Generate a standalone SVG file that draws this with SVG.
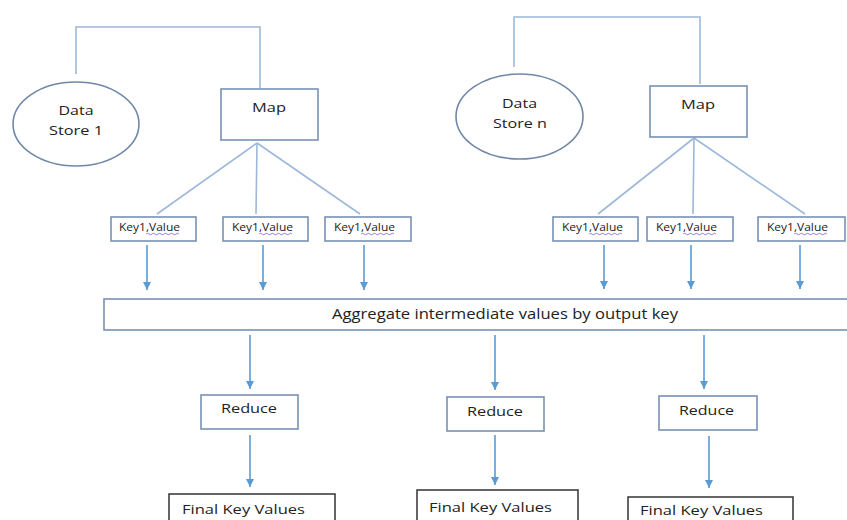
<svg xmlns="http://www.w3.org/2000/svg" width="847" height="520" viewBox="0 0 847 520">
<defs>
<marker id="ah" markerWidth="10" markerHeight="10" refX="8" refY="5" orient="auto" markerUnits="userSpaceOnUse">
<path d="M0,1 L8,5 L0,9 Z" fill="#5b9bd5"/>
</marker>
<style>
.ln{fill:none;stroke:#9db8da;stroke-width:1.6}
.ar{fill:none;stroke:#5b9bd5;stroke-width:1.6;marker-end:url(#ah)}
.bx{fill:#fff;stroke:#7890b3;stroke-width:1.6}
.fb{fill:#fff;stroke:#333;stroke-width:1.5}
.el{fill:#fff;stroke:#7088a8;stroke-width:1.6}
text{font-family:"Open Sans","Liberation Sans",sans-serif;fill:#222;text-anchor:middle}
.t13{font-size:13px}
.tk{font-size:10px}
.sq{fill:none;stroke:#7a5fd6;stroke-width:0.8}
</style>
</defs>
<rect width="847" height="520" fill="#fff"/>
<g id="connectors">
<polyline class="ln" points="76,74 76,27 260,27 260,88"/>
<polyline class="ln" points="514,67 514,17 700,17 700,84"/>
<line class="ln" x1="257" y1="143" x2="157" y2="214"/>
<line class="ln" x1="257" y1="143" x2="256" y2="214"/>
<line class="ln" x1="257" y1="143" x2="360" y2="214"/>
<line class="ln" x1="694" y1="138" x2="598" y2="214"/>
<line class="ln" x1="694" y1="138" x2="693" y2="214"/>
<line class="ln" x1="694" y1="138" x2="805" y2="214"/>
<line class="ar" x1="147" y1="245" x2="147" y2="290"/>
<line class="ar" x1="263" y1="245" x2="263" y2="290"/>
<line class="ar" x1="364" y1="245" x2="364" y2="290"/>
<line class="ar" x1="604" y1="245" x2="604" y2="289"/>
<line class="ar" x1="691" y1="245" x2="691" y2="289"/>
<line class="ar" x1="800" y1="245" x2="800" y2="289"/>
<line class="ar" x1="250" y1="335" x2="250" y2="389"/>
<line class="ar" x1="495" y1="335" x2="495" y2="390"/>
<line class="ar" x1="704" y1="335" x2="704" y2="389"/>
<line class="ar" x1="250" y1="435" x2="250" y2="487"/>
<line class="ar" x1="495" y1="435" x2="495" y2="485"/>
<line class="ar" x1="709" y1="436" x2="709" y2="488"/>
</g>
<g id="ds1"><ellipse class="el" cx="76" cy="124" rx="63" ry="42"/><text class="t13" x="76" y="115" textLength="35" lengthAdjust="spacingAndGlyphs">Data</text><text class="t13" x="76" y="135" textLength="54" lengthAdjust="spacingAndGlyphs">Store 1</text></g>
<g id="map1"><rect class="bx" x="221" y="89" width="97" height="51"/><text class="t13" x="269" y="112" textLength="34" lengthAdjust="spacingAndGlyphs">Map</text></g>
<g id="dsn"><ellipse class="el" cx="519.5" cy="116.5" rx="63.5" ry="42.5"/><text class="t13" x="519.5" y="108" textLength="35" lengthAdjust="spacingAndGlyphs">Data</text><text class="t13" x="520" y="128" textLength="54" lengthAdjust="spacingAndGlyphs">Store n</text></g>
<g id="map2"><rect class="bx" x="650" y="86" width="97" height="51"/><text class="t13" x="698" y="109" textLength="34" lengthAdjust="spacingAndGlyphs">Map</text></g>
<g id="kv1"><rect class="bx" x="111" y="217" width="85" height="24"/><text class="tk" x="149.5" y="231" textLength="61" lengthAdjust="spacingAndGlyphs">Key1,Value</text><path class="sq" d="M146,234 q1.5,-1.5 3,0 t3,0 t3,0 t3,0 t3,0 t3,0 t3,0 t3,0 t3,0 t3,0 t3,0"/></g>
<g id="kv2"><rect class="bx" x="223" y="217" width="85" height="24"/><text class="tk" x="262.5" y="231" textLength="61" lengthAdjust="spacingAndGlyphs">Key1,Value</text><path class="sq" d="M259,234 q1.5,-1.5 3,0 t3,0 t3,0 t3,0 t3,0 t3,0 t3,0 t3,0 t3,0 t3,0 t3,0"/></g>
<g id="kv3"><rect class="bx" x="325" y="217" width="86" height="24"/><text class="tk" x="364.5" y="231" textLength="61" lengthAdjust="spacingAndGlyphs">Key1,Value</text><path class="sq" d="M361,234 q1.5,-1.5 3,0 t3,0 t3,0 t3,0 t3,0 t3,0 t3,0 t3,0 t3,0 t3,0 t3,0"/></g>
<g id="kv4"><rect class="bx" x="553" y="217" width="85" height="24"/><text class="tk" x="592.5" y="231" textLength="61" lengthAdjust="spacingAndGlyphs">Key1,Value</text><path class="sq" d="M589,234 q1.5,-1.5 3,0 t3,0 t3,0 t3,0 t3,0 t3,0 t3,0 t3,0 t3,0 t3,0 t3,0"/></g>
<g id="kv5"><rect class="bx" x="647" y="217" width="86" height="24"/><text class="tk" x="686.5" y="231" textLength="61" lengthAdjust="spacingAndGlyphs">Key1,Value</text><path class="sq" d="M683,234 q1.5,-1.5 3,0 t3,0 t3,0 t3,0 t3,0 t3,0 t3,0 t3,0 t3,0 t3,0 t3,0"/></g>
<g id="kv6"><rect class="bx" x="758" y="217" width="87" height="24"/><text class="tk" x="797.5" y="231" textLength="61" lengthAdjust="spacingAndGlyphs">Key1,Value</text><path class="sq" d="M794,234 q1.5,-1.5 3,0 t3,0 t3,0 t3,0 t3,0 t3,0 t3,0 t3,0 t3,0 t3,0 t3,0"/></g>
<g id="agg"><rect class="bx" x="104" y="299" width="760" height="31"/><text x="505" y="319" font-size="14.5" textLength="346" lengthAdjust="spacingAndGlyphs">Aggregate intermediate values by output key</text></g>
<g id="red1"><rect class="bx" x="201" y="395" width="97" height="34"/><text class="t13" x="249" y="413" textLength="56" lengthAdjust="spacingAndGlyphs">Reduce</text></g>
<g id="red2"><rect class="bx" x="447" y="397" width="97" height="34"/><text class="t13" x="495" y="416" textLength="56" lengthAdjust="spacingAndGlyphs">Reduce</text></g>
<g id="red3"><rect class="bx" x="659" y="396" width="98" height="34"/><text class="t13" x="706.5" y="415" textLength="55" lengthAdjust="spacingAndGlyphs">Reduce</text></g>
<g id="fin1"><rect class="fb" x="169" y="494" width="166" height="40"/><text class="t13" x="243.5" y="514" textLength="123" lengthAdjust="spacingAndGlyphs">Final Key Values</text></g>
<g id="fin2"><rect class="fb" x="417" y="490" width="161" height="44"/><text class="t13" x="490.5" y="512" textLength="123" lengthAdjust="spacingAndGlyphs">Final Key Values</text></g>
<g id="fin3"><rect class="fb" x="628" y="497" width="165" height="40"/><text class="t13" x="701.5" y="515" textLength="123" lengthAdjust="spacingAndGlyphs">Final Key Values</text></g>
</svg>
